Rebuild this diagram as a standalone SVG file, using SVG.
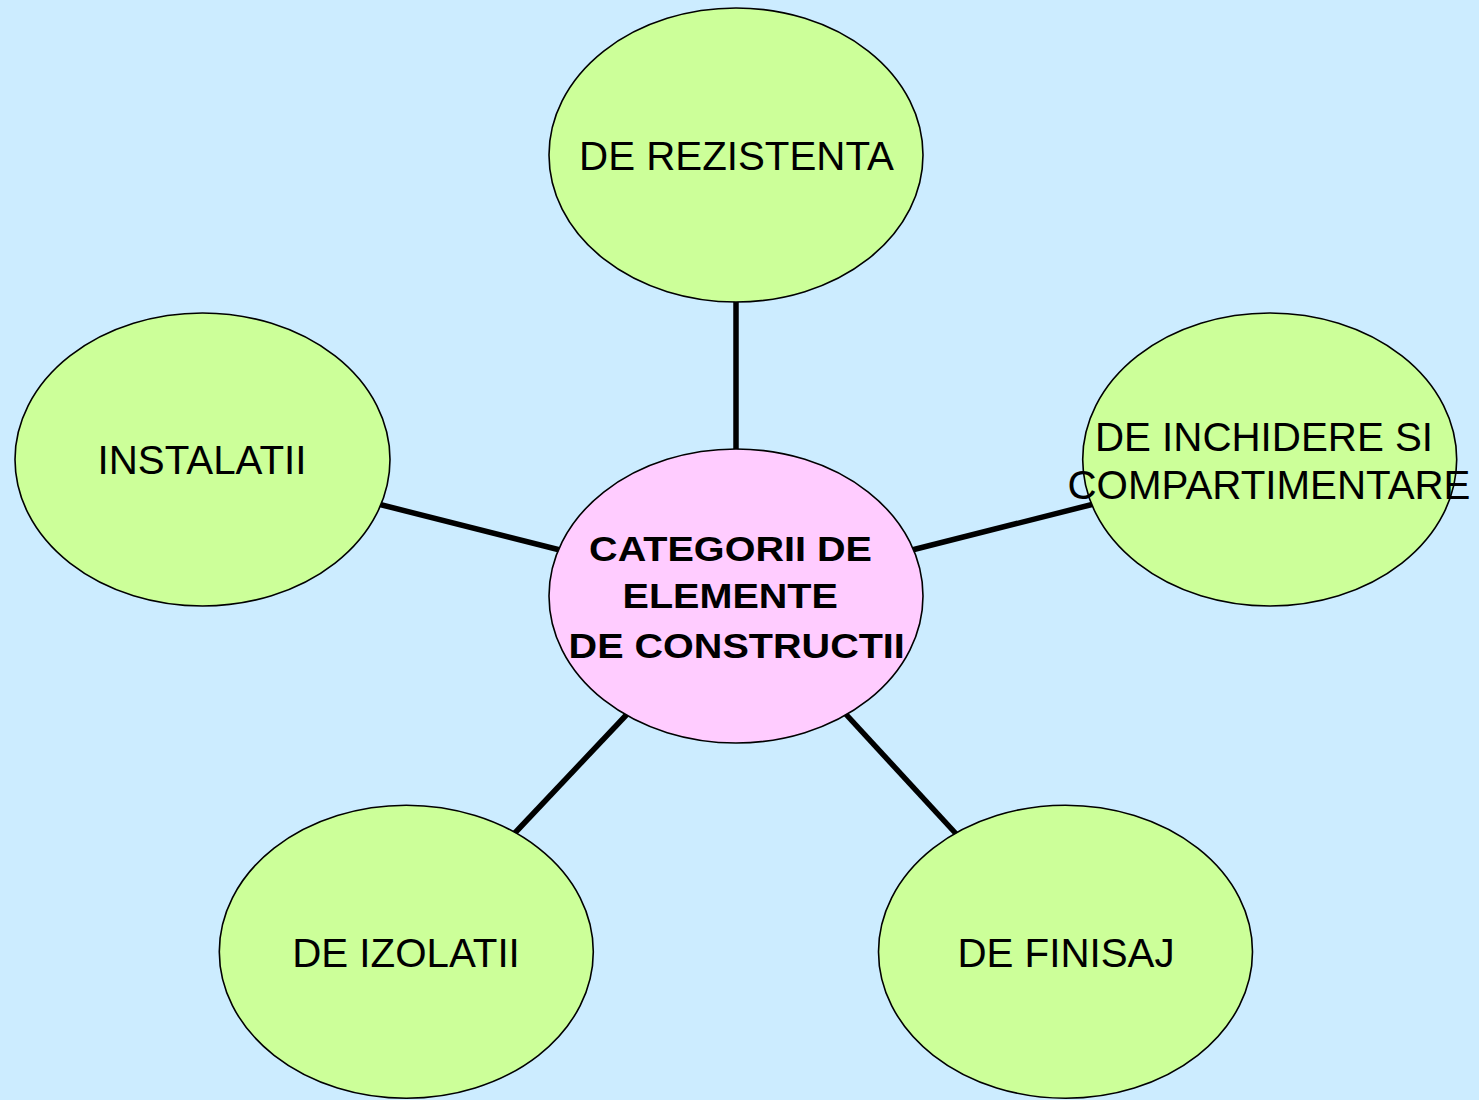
<svg xmlns="http://www.w3.org/2000/svg" width="1479" height="1100" viewBox="0 0 1479 1100">
<style>
.bg{fill:#CCECFF}
.leaf{fill:#CCFF99;stroke:#000;stroke-width:1.6}
.hub{fill:#FFCCFF;stroke:#000;stroke-width:1.6}
.lbl{font-family:"Liberation Sans",Arial,sans-serif;font-size:40.3px;fill:#000;text-anchor:middle}
.hubt{font-family:"Liberation Sans",Arial,sans-serif;font-size:35.5px;font-weight:bold;fill:#000;text-anchor:middle}
.conn line{stroke:#000;stroke-width:5.5;stroke-linecap:butt}
</style>
<rect class="bg" x="0" y="0" width="1479" height="1100"/>
<g id="connectors" class="conn">
<line x1="736" y1="296" x2="736" y2="455"/>
<line x1="374" y1="503" x2="564" y2="551"/>
<line x1="908" y1="551" x2="1098" y2="503"/>
<line x1="631" y1="710" x2="512" y2="836"/>
<line x1="842" y1="710" x2="959" y2="837"/>
</g>
<g id="node-rezistenta">
<ellipse class="leaf" cx="736" cy="155" rx="187" ry="147"/>
<text class="lbl" x="736.5" y="170">DE REZISTENTA</text>
</g>
<g id="node-instalatii">
<ellipse class="leaf" cx="202.5" cy="459.5" rx="187.5" ry="146.5"/>
<text class="lbl" x="202" y="474.3">INSTALATII</text>
</g>
<g id="node-inchidere">
<ellipse class="leaf" cx="1269.7" cy="459.5" rx="187" ry="146.5"/>
<text class="lbl" x="1264" y="450.7">DE INCHIDERE SI</text>
<text class="lbl" x="1269" y="499">COMPARTIMENTARE</text>
</g>
<g id="node-izolatii">
<ellipse class="leaf" cx="406.3" cy="951.7" rx="187" ry="146.5"/>
<text class="lbl" x="406" y="966.7">DE IZOLATII</text>
</g>
<g id="node-finisaj">
<ellipse class="leaf" cx="1065.5" cy="951.7" rx="187" ry="146.5"/>
<text class="lbl" x="1066" y="966.7">DE FINISAJ</text>
</g>
<g id="node-categorii">
<ellipse class="hub" cx="736" cy="596" rx="187" ry="147"/>
<text class="hubt" transform="translate(730.5 560.7) scale(1.115 1)" x="0" y="0">CATEGORII DE</text>
<text class="hubt" transform="translate(730.2 608.3) scale(1.115 1)" x="0" y="0">ELEMENTE</text>
<text class="hubt" transform="translate(736.7 658.3) scale(1.115 1)" x="0" y="0">DE CONSTRUCTII</text>
</g>
</svg>
